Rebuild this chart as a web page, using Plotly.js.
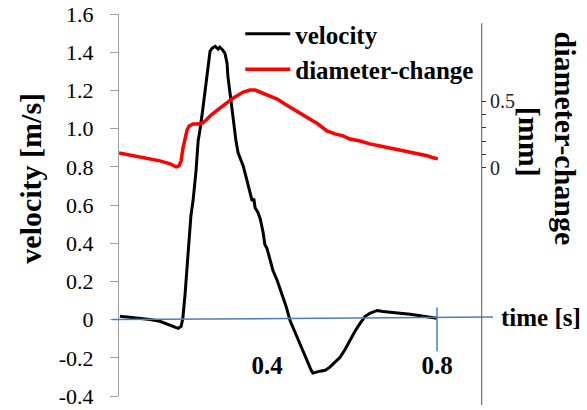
<!DOCTYPE html>
<html>
<head>
<meta charset="utf-8">
<script src="https://cdn.plot.ly/plotly-3.0.1.min.js"></script>
<style>
html,body{margin:0;padding:0;background:#fff;}
#chart{width:587px;height:410px;}
#chart text{font-family:'Liberation Serif','Times New Roman',Tinos,serif !important;}
</style>
</head>
<body>
<div id="chart"></div>
<script>
// time [s] for the velocity series
var velTime = [0.054,0.078,0.101,0.125,0.148,0.167,0.181,0.191,0.198,0.202,0.207,0.212,0.217,0.221,0.226,0.233,0.238,0.242,0.249,0.254,0.261,0.266,0.271,0.278,0.285,0.289,0.294,0.301,0.306,0.308,0.313,0.318,0.322,0.327,0.332,0.339,0.344,0.353,0.360,0.365,0.369,0.372,0.379,0.384,0.391,0.395,0.400,0.407,0.414,0.424,0.435,0.445,0.454,0.464,0.473,0.485,0.497,0.504,0.508,0.515,0.525,0.537,0.548,0.560,0.572,0.584,0.595,0.607,0.619,0.631,0.642,0.659,0.673,0.689,0.713,0.737,0.760,0.784,0.800];
// velocity [m/s]
var velocity = [0.017,0.012,0.007,0.001,-0.009,-0.025,-0.040,-0.046,-0.035,0.007,0.127,0.283,0.414,0.544,0.622,0.779,0.936,0.988,1.103,1.197,1.343,1.405,1.421,1.431,1.416,1.426,1.416,1.395,1.343,1.275,1.186,1.092,1.014,0.936,0.873,0.831,0.805,0.727,0.659,0.622,0.633,0.586,0.560,0.528,0.455,0.393,0.372,0.320,0.257,0.205,0.137,0.069,-0.004,-0.056,-0.108,-0.171,-0.234,-0.265,-0.280,-0.275,-0.270,-0.265,-0.249,-0.223,-0.197,-0.155,-0.108,-0.061,-0.020,0.017,0.033,0.048,0.043,0.038,0.033,0.028,0.022,0.012,0.007];
// time [s] for the diameter-change series
var diaTime = [0.052,0.066,0.082,0.101,0.125,0.148,0.172,0.186,0.193,0.198,0.202,0.207,0.212,0.217,0.226,0.238,0.249,0.257,0.266,0.280,0.297,0.320,0.344,0.360,0.372,0.384,0.402,0.424,0.442,0.461,0.482,0.501,0.520,0.541,0.560,0.579,0.595,0.619,0.642,0.666,0.689,0.713,0.737,0.760,0.777,0.791,0.802];
// diameter-change [mm]
var diameter = [0.112,0.104,0.090,0.082,0.067,0.052,0.030,0.007,0.015,0.052,0.142,0.224,0.284,0.313,0.328,0.328,0.336,0.358,0.388,0.425,0.463,0.522,0.567,0.582,0.582,0.567,0.545,0.515,0.478,0.440,0.403,0.366,0.328,0.276,0.254,0.239,0.216,0.201,0.179,0.164,0.149,0.134,0.112,0.097,0.090,0.075,0.067];

var leftTickVals = [-0.4,-0.2,0,0.2,0.4,0.6,0.8,1.0,1.2,1.4,1.6];
var leftTickText = ['-0.4','-0.2','0','0.2','0.4','0.6','0.8','1.0','1.2','1.4','1.6'];
var rightTickVals = [0,0.1,0.2,0.3,0.4,0.5];
var rightTickText = ['0','','','','','0.5'];
var xTickVals = [0.4,0.8];
var xTickText = ['<b>0.4</b>','<b>0.8</b>'];

var serif = 'Liberation Serif';

var traces = [
  {x: velTime, y: velocity, type:'scatter', mode:'lines', name:'<b>velocity</b>',
   line:{color:'#000000', width:3}, yaxis:'y'},
  {x: diaTime, y: diameter, type:'scatter', mode:'lines', name:'<b>diameter-change</b>',
   line:{color:'#ff0000', width:3.5}, yaxis:'y2'}
];

var layout = {
  width:587, height:410,
  margin:{l:119, r:106, t:13, b:14},
  paper_bgcolor:'#ffffff', plot_bgcolor:'#ffffff',
  font:{family:serif, color:'#000'},
  showlegend:true,
  legend:{x:0.335, y:1.005, xanchor:'left', yanchor:'top', bgcolor:'rgba(0,0,0,0)',
          font:{family:serif, size:25, color:'#000'}, itemwidth:45, tracegroupgap:0},
  xaxis:{range:[0.0518,0.9035], anchor:'free', position:0.125, showline:false, zeroline:false,
         showgrid:false, ticks:'', tickvals:xTickVals, ticktext:xTickText,
         tickfont:{family:serif, size:25, color:'#000'}},
  yaxis:{range:[-0.4,1.6], showline:true, linecolor:'#a0a0a0', linewidth:1, zeroline:false,
         showgrid:false, ticks:'outside', ticklen:8, tickcolor:'#a0a0a0', tickwidth:1,
         tickvals:leftTickVals, ticktext:leftTickText, ticklabelstandoff:12,
         tickfont:{family:serif, size:22, color:'#000'}},
  yaxis2:{range:[-1.709,1.152], overlaying:'y', side:'right', anchor:'x', showline:false,
          zeroline:false, showgrid:false, ticks:'outside', ticklen:4, tickcolor:'#333', tickwidth:1,
          tickvals:rightTickVals, ticktext:rightTickText,
          tickfont:{family:serif, size:20, color:'#222'}},
  shapes:[
    {type:'line', xref:'paper', yref:'y', x0:-0.019, x1:1.033, y0:0, y1:0.013,
     line:{color:'#4a7ebb', width:1.5}},
    {type:'line', xref:'x', yref:'y', x0:0.8, x1:0.8, y0:0.064, y1:-0.166,
     line:{color:'#4a7ebb', width:1.5}},
    {type:'line', xref:'paper', yref:'paper', x0:1.002, x1:1.002, y0:-0.0235, y1:0.976,
     line:{color:'#555', width:1}}
  ],
  annotations:[
    {text:'<b>velocity [m/s]</b>', xref:'paper', yref:'paper', x:-0.243, y:0.569,
     xanchor:'center', yanchor:'middle',
     textangle:-90, showarrow:false, font:{family:serif, size:30, color:'#000'}},
    {text:'<b>diameter-change</b>', xref:'paper', yref:'paper', x:1.232, y:0.674,
     xanchor:'center', yanchor:'middle',
     textangle:90, showarrow:false, font:{family:serif, size:30, color:'#000'}},
    {text:'<b>[mm]</b>', xref:'paper', yref:'paper', x:1.135, y:0.666,
     xanchor:'center', yanchor:'middle',
     textangle:90, showarrow:false, font:{family:serif, size:30, color:'#000'}},
    {text:'<b>time [s]</b>', xref:'paper', yref:'paper', x:1.166, y:0.206,
     xanchor:'center', yanchor:'middle',
     showarrow:false, font:{family:serif, size:25, color:'#000'}}
  ]
};

var gd = document.getElementById('chart');
function forceSerif(){
  var ts = gd.querySelectorAll('text');
  for (var i = 0; i < ts.length; i++) {
    ts[i].style.setProperty('font-family', "'Liberation Serif','Times New Roman',Tinos,serif", 'important');
  }
}
var p = Plotly.newPlot(gd, traces, layout, {displayModeBar:false, staticPlot:true});
forceSerif();
if (p && p.then) { p.then(forceSerif); }
</script>
</body>
</html>
